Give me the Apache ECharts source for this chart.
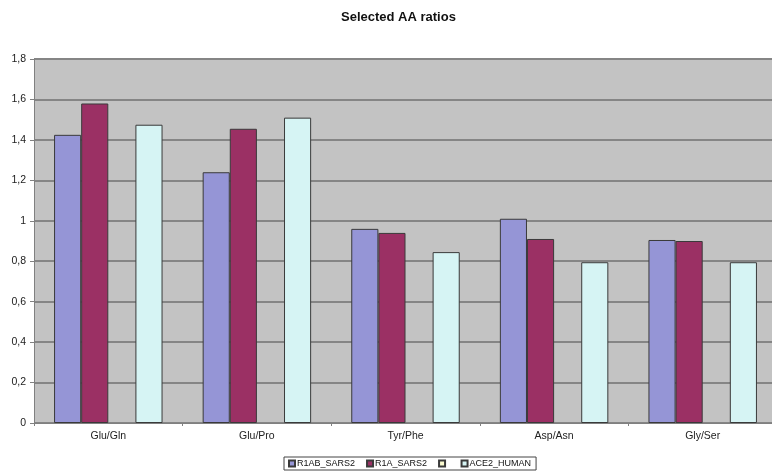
<!DOCTYPE html>
<html>
<head>
<meta charset="utf-8">
<script src="https://cdn.jsdelivr.net/npm/echarts@6/dist/echarts.min.js"></script>
<style>
  html, body { margin: 0; padding: 0; background: #ffffff; }
  #chart { width: 772px; height: 473px; }
</style>
</head>
<body>
<div id="chart"></div>
<script>
// Amino-acid ratio pairs
const categories = ['Glu/Gln', 'Glu/Pro', 'Tyr/Phe', 'Asp/Asn', 'Gly/Ser'];

// Ratios per protein
const r1abSars2 = [1.425, 1.24, 0.96, 1.01, 0.905];
const r1aSars2  = [1.58, 1.455, 0.94, 0.91, 0.90];
const unnamed   = [null, null, null, null, null];
const ace2Human = [1.475, 1.51, 0.845, 0.795, 0.795];

const seriesNames = ['R1AB_SARS2', 'R1A_SARS2', ' ', 'ACE2_HUMAN'];
const yTicks = { min: 0, max: 1.8, step: 0.2 };

const chart = echarts.init(document.getElementById('chart'), null, { renderer: 'canvas' });

const barStyle = (color) => ({ color: color, borderColor: '#3a3a3a', borderWidth: 1 });

chart.setOption({
  animation: false,
  backgroundColor: '#ffffff',
  title: {
    text: 'Selected AA ratios',
    left: 336,
    top: 6,
    textStyle: { fontFamily: 'Liberation Sans, Arial', fontSize: 13, fontWeight: 'bold', color: '#111' }
  },
  legend: {
    left: 284,
    top: 457,
    padding: [2, 5, 2, 4],
    borderColor: '#444',
    borderWidth: 1,
    itemWidth: 6,
    itemHeight: 6,
    itemGap: 11,
    icon: 'rect',
    data: seriesNames,
    textStyle: { fontFamily: 'Liberation Sans, Arial', fontSize: 9, color: '#111', padding: [0, 0, 0, -3] }
  },
  grid: { left: 34, width: 743, top: 59, bottom: 50, containLabel: false, outerBoundsMode: 'none',
          show: true, backgroundColor: '#c3c3c3', borderWidth: 0 },
  xAxis: {
    type: 'category',
    data: categories,
    axisLine: { lineStyle: { color: '#808080', width: 1 } },
    axisTick: { show: true, length: 3, lineStyle: { color: '#808080' } },
    axisLabel: { fontFamily: 'Liberation Sans, Arial', fontSize: 10.5, color: '#222', margin: 8 }
  },
  yAxis: {
    type: 'value',
    min: yTicks.min,
    max: yTicks.max,
    interval: yTicks.step,
    axisLine: { show: true, lineStyle: { color: '#808080', width: 1 } },
    axisTick: { show: true, length: 4, lineStyle: { color: '#808080' } },
    splitLine: { lineStyle: { color: '#858585', width: 2 } },
    axisLabel: {
      fontFamily: 'Liberation Sans, Arial', fontSize: 10.5, color: '#222', margin: 8,
      formatter: (v) => String(+v.toFixed(1)).replace('.', ',')
    }
  },
  series: [
    { name: seriesNames[0], type: 'bar', data: r1abSars2, itemStyle: barStyle('#9595d6'),
      barGap: '0%', barCategoryGap: '27%' },
    { name: seriesNames[1], type: 'bar', data: r1aSars2, itemStyle: barStyle('#9b3064') },
    { name: seriesNames[2], type: 'bar', data: unnamed, itemStyle: barStyle('#fbfbd0') },
    { name: seriesNames[3], type: 'bar', data: ace2Human, itemStyle: barStyle('#d6f4f4') }
  ]
});
</script>
</body>
</html>
